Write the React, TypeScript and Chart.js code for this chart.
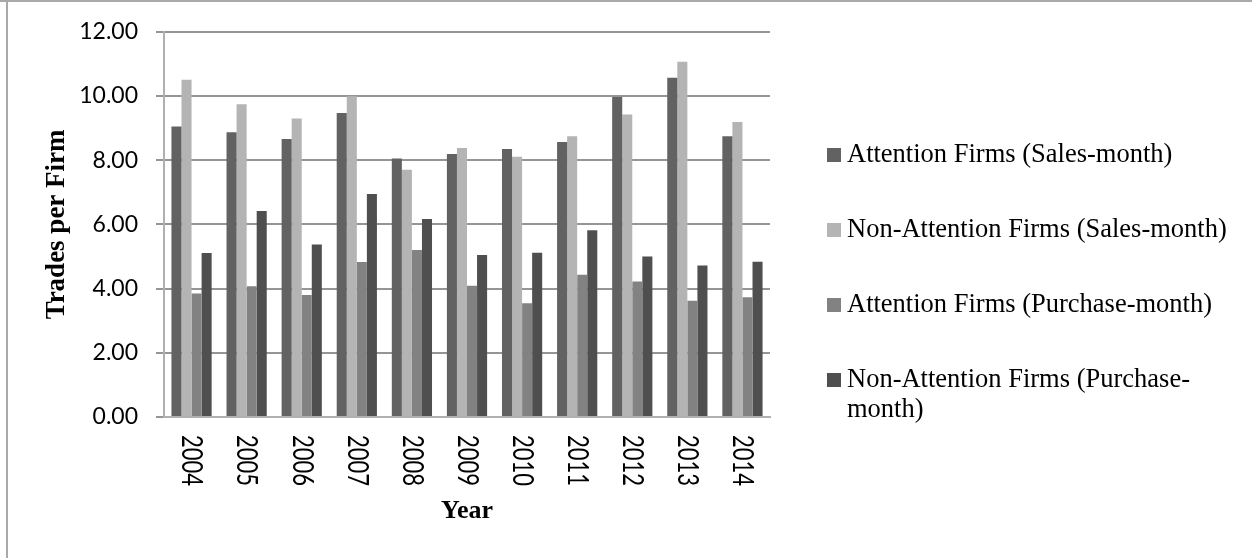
import React, { useEffect, useRef } from "react";
import { Chart, registerables } from "chart.js";

Chart.register(...registerables);

const years = ["2004", "2005", "2006", "2007", "2008", "2009", "2010", "2011", "2012", "2013", "2014"];
const attentionSales = [9.05, 8.87, 8.66, 9.47, 8.05, 8.19, 8.35, 8.57, 9.97, 10.57, 8.75];
const nonAttentionSales = [10.51, 9.74, 9.3, 9.99, 7.7, 8.38, 8.11, 8.75, 9.42, 11.07, 9.19];
const attentionPurchase = [3.85, 4.07, 3.8, 4.83, 5.2, 4.09, 3.54, 4.43, 4.22, 3.62, 3.73];
const nonAttentionPurchase = [5.11, 6.42, 5.37, 6.95, 6.17, 5.05, 5.12, 5.82, 5.0, 4.72, 4.84];

const seriesLabels = [
  "Attention Firms (Sales-month)",
  "Non-Attention Firms (Sales-month)",
  "Attention Firms (Purchase-month)",
  "Non-Attention Firms (Purchase-month)",
];
const legendLines = [
  ["Attention Firms (Sales-month)"],
  ["Non-Attention Firms (Sales-month)"],
  ["Attention Firms (Purchase-month)"],
  ["Non-Attention Firms (Purchase-", "month)"],
];
const seriesColors = ["#626262", "#b4b4b4", "#828282", "#4f4f4f"];
const yTitle = "Trades per Firm";
const xTitle = "Year";

export default function App() {
  const canvasRef = useRef<HTMLCanvasElement | null>(null);

  useEffect(() => {
    const canvas = canvasRef.current;
    if (!canvas) return;

    const xLabelPlugin = {
      id: "xLabelsRotated",
      afterDraw(chart: any) {
        const { ctx } = chart;
        const x = chart.scales.x;
        ctx.save();
        ctx.font = '22px Lato';
        ctx.fillStyle = "#000";
        ctx.textAlign = "left";
        ctx.textBaseline = "middle";
        (chart.data.labels as string[]).forEach((lab, i) => {
          const px = x.getPixelForTick(i);
          ctx.save();
          ctx.translate(px, x.top + 18);
          ctx.rotate(Math.PI / 2);
          ctx.scale(1, 1.3);
          ctx.fillText(lab, 0, 0);
          ctx.restore();
        });
        ctx.restore();
      },
    };

    const legendPlugin = {
      id: "customLegend",
      afterDraw(chart: any) {
        const { ctx } = chart;
        ctx.save();
        ctx.font = '26.5px "Liberation Serif"';
        ctx.textAlign = "left";
        ctx.textBaseline = "alphabetic";
        chart.data.datasets.forEach((ds: any, i: number) => {
          const baseY = 162 + 75 * i;
          ctx.fillStyle = ds.backgroundColor;
          ctx.fillRect(827, baseY - 14, 14, 14);
          ctx.fillStyle = "#000";
          legendLines[i].forEach((line, j) => {
            ctx.fillText(line, 847, baseY + 30 * j);
          });
        });
        ctx.restore();
      },
    };

    const chart = new Chart(canvas, {
      type: "bar",
      data: {
        labels: years,
        datasets: [attentionSales, nonAttentionSales, attentionPurchase, nonAttentionPurchase].map((d, i) => ({
          label: seriesLabels[i],
          data: d,
          backgroundColor: seriesColors[i],
          borderWidth: 0,
          categoryPercentage: 0.73,
          barPercentage: 1,
        })),
      },
      options: {
        animation: false,
        responsive: true,
        maintainAspectRatio: false,
        layout: { padding: { left: 0, top: 30, right: 482, bottom: 0 } },
        plugins: { legend: { display: false }, tooltip: { enabled: false } },
        scales: {
          x: {
            grid: { display: false },
            border: { display: true, color: "#b0b0b0", width: 2 },
            ticks: { display: false },
            title: {
              display: true,
              text: xTitle,
              color: "#000",
              font: { family: '"Liberation Serif"', size: 26, weight: "bold" },
              padding: { top: 0, bottom: 31 },
            },
            afterFit(scale: any) {
              scale.height = 141;
            },
          },
          y: {
            min: 0,
            max: 12,
            ticks: {
              stepSize: 2,
              color: "#000",
              font: { family: "Lato", size: 23 },
              padding: 18,
              callback: (v: any) => Number(v).toFixed(2),
            },
            grid: { color: "#959595", lineWidth: 2, tickLength: 8, drawTicks: true },
            border: { display: true, color: "#b0b0b0", width: 2 },
            title: {
              display: true,
              text: yTitle,
              color: "#000",
              font: { family: '"Liberation Serif"', size: 27, weight: "bold" },
              padding: { top: 41, bottom: 0 },
            },
            afterFit(scale: any) {
              scale.width = 164;
            },
          },
        },
      },
      plugins: [xLabelPlugin, legendPlugin],
    } as any);

    return () => chart.destroy();
  }, []);

  return (
    <div style={{ position: "fixed", left: 0, top: 0, width: 1252, height: 558, background: "#fff" }}>
      <div style={{ position: "absolute", left: 0, top: 0, width: 1252, height: 2, background: "#a9a9a9" }} />
      <div style={{ position: "absolute", left: 6, top: 0, width: 2, height: 558, background: "#a9a9a9" }} />
      <div style={{ position: "absolute", left: 0, top: 0, width: 1252, height: 558 }}>
        <canvas ref={canvasRef} />
      </div>
    </div>
  );
}
